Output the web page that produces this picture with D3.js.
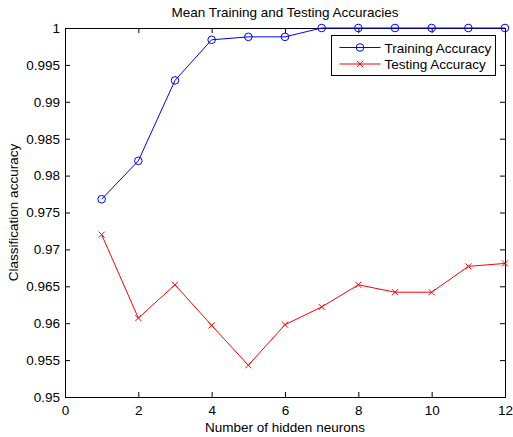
<!DOCTYPE html>
<html>
<head>
<meta charset="utf-8">
<script src="https://cdn.jsdelivr.net/npm/d3@7/dist/d3.min.js"></script>
<style>
  html, body { margin: 0; padding: 0; background: #fff; }
  svg { display: block; font-family: "Liberation Sans", Arial, Helvetica, sans-serif; }
</style>
</head>
<body>
<svg id="chart" width="513" height="437"></svg>
<script>
// Hidden-neuron counts and mean accuracies
const neurons = [1, 2, 3, 4, 5, 6, 7, 8, 9, 10, 11, 12];
const trainingAcc = [0.9768, 0.9820, 0.9929, 0.9984, 0.9988, 0.9988, 1.0, 1.0, 1.0, 1.0, 1.0, 1.0];
const testingAcc = [0.9720, 0.9607, 0.9652, 0.9597, 0.9543, 0.9598, 0.9622, 0.9652, 0.9642, 0.9642, 0.9677, 0.9681];
const xTicks = [0, 2, 4, 6, 8, 10, 12];
const yTicks = [0.95, 0.955, 0.96, 0.965, 0.97, 0.975, 0.98, 0.985, 0.99, 0.995, 1];
const seriesNames = ["Training Accuracy", "Testing Accuracy"];

const svg = d3.select("#chart");
const plotLeft = 65, plotRight = 505, plotTop = 28, plotBottom = 397;
const fontSize = "13.5px";

const x = d3.scaleLinear().domain([0, 12]).range([plotLeft, plotRight]);
const y = d3.scaleLinear().domain([0.95, 1]).range([plotBottom, plotTop]);

const fmt = d => String(+d.toFixed(3));
const tickLen = 5;

// Axes: outward labels on bottom/left, inward ticks on all four sides
const gx = svg.append("g").attr("transform", `translate(0,${plotBottom})`)
  .call(d3.axisBottom(x).tickValues(xTicks).tickFormat(fmt).tickSize(-tickLen).tickPadding(8));
const gy = svg.append("g").attr("transform", `translate(${plotLeft},0)`)
  .call(d3.axisLeft(y).tickValues(yTicks).tickFormat(fmt).tickSize(-tickLen).tickPadding(5));
const gx2 = svg.append("g").attr("transform", `translate(0,${plotTop})`)
  .call(d3.axisTop(x).tickValues(xTicks).tickFormat("").tickSize(-tickLen));
const gy2 = svg.append("g").attr("transform", `translate(${plotRight},0)`)
  .call(d3.axisRight(y).tickValues(yTicks).tickFormat("").tickSize(-tickLen));

[gx, gy, gx2, gy2].forEach(g => {
  g.select(".domain").attr("stroke", "#000").attr("stroke-width", 1);
  g.selectAll(".tick line").attr("stroke", "#000");
  g.selectAll("text").attr("fill", "#000").style("font-size", fontSize)
    .style("font-family", "'Liberation Sans', Arial, sans-serif");
});

// Series lines
const line = d3.line().x(d => x(d[0])).y(d => y(d[1]));
const trainPts = neurons.map((n, i) => [n, trainingAcc[i]]);
const testPts = neurons.map((n, i) => [n, testingAcc[i]]);

svg.append("path").datum(trainPts).attr("d", line)
  .attr("fill", "none").attr("stroke", "#0000ff").attr("stroke-width", 1);
svg.append("path").datum(testPts).attr("d", line)
  .attr("fill", "none").attr("stroke", "#ff0000").attr("stroke-width", 1);

// Markers: circles for training, crosses for testing
svg.append("g").selectAll("circle").data(trainPts).join("circle")
  .attr("cx", d => x(d[0])).attr("cy", d => y(d[1])).attr("r", 3.8)
  .attr("fill", "none").attr("stroke", "#0000ff").attr("stroke-width", 1);

const cross = 3;
const crossPath = (cx, cy) => `M${cx - cross},${cy - cross}L${cx + cross},${cy + cross}M${cx - cross},${cy + cross}L${cx + cross},${cy - cross}`;
svg.append("g").selectAll("path").data(testPts).join("path")
  .attr("d", d => crossPath(x(d[0]), y(d[1])))
  .attr("fill", "none").attr("stroke", "#ff0000").attr("stroke-width", 1);

// Title and axis labels
svg.append("text").attr("x", (plotLeft + plotRight) / 2).attr("y", 16.5)
  .attr("text-anchor", "middle").style("font-size", fontSize)
  .text("Mean Training and Testing Accuracies");
svg.append("text").attr("x", (plotLeft + plotRight) / 2).attr("y", 432)
  .attr("text-anchor", "middle").style("font-size", fontSize)
  .text("Number of hidden neurons");
svg.append("text").attr("transform", `translate(18,${(plotTop + plotBottom) / 2}) rotate(-90)`)
  .attr("text-anchor", "middle").style("font-size", fontSize)
  .text("Classification accuracy");

// Legend
const lg = svg.append("g");
const lx = 331.5, ly = 35.5, lw = 164, lh = 40;
lg.append("rect").attr("x", lx).attr("y", ly).attr("width", lw).attr("height", lh)
  .attr("fill", "#fff").attr("stroke", "#000").attr("stroke-width", 1);
const colors = ["#0000ff", "#ff0000"];
seriesNames.forEach((name, i) => {
  const cy = ly + 12 + i * 16.5;
  lg.append("line").attr("x1", lx + 8).attr("x2", lx + 49).attr("y1", cy).attr("y2", cy)
    .attr("stroke", colors[i]).attr("stroke-width", 1);
  const mx = lx + 28.5;
  if (i === 0) {
    lg.append("circle").attr("cx", mx).attr("cy", cy).attr("r", 3.8)
      .attr("fill", "none").attr("stroke", colors[i]);
  } else {
    lg.append("path").attr("d", crossPath(mx, cy)).attr("fill", "none").attr("stroke", colors[i]);
  }
  lg.append("text").attr("x", lx + 53).attr("y", cy + 5).style("font-size", fontSize)
    .attr("fill", "#000").text(name);
});
</script>
</body>
</html>
